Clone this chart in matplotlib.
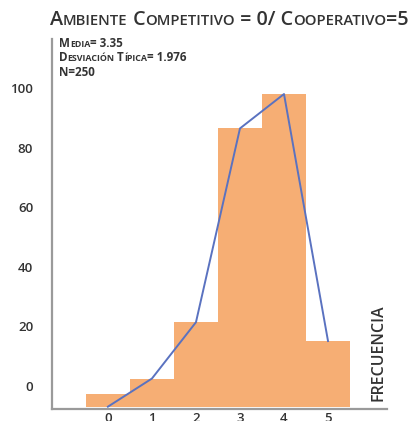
import matplotlib.pyplot as plt
from matplotlib.offsetbox import TextArea, HPacker, VPacker, AnnotationBbox

# datos
puntaje = [0, 1, 2, 3, 4, 5]
frecuencia = [4, 9, 27, 89, 100, 21]
poligono = [0, 9, 27, 89, 100, 21]
yticks = [0, 20, 40, 60, 80, 100]
titulo = "Ambiente Competitivo = 0/ Cooperativo=5"
stats = ["Media= 3.35", "Desviación Típica= 1.976", "N=250"]

FONT = "Open Sans"
GRIS = "#333333"


def small_caps(text, big, small, **kw):
    # versalitas: minusculas en mayuscula pequena
    runs = []
    for ch in text:
        low = ch.islower()
        if runs and runs[-1][1] == low:
            runs[-1][0] += ch
        else:
            runs.append([ch, low])
    areas = []
    for s, low in runs:
        props = dict(size=small if low else big, family=FONT, color=GRIS, **kw)
        areas.append(TextArea(s.upper() if low else s, textprops=props))
    return HPacker(children=areas, align="baseline", pad=0, sep=0)


fig = plt.figure(figsize=(4.16, 4.21), dpi=100)
ax = fig.add_axes([52 / 416, 12 / 421, 335 / 416, 370 / 421])

ax.bar(puntaje, frecuencia, width=1, color="#F6AE74", edgecolor="none")
ax.plot(puntaje, poligono, color="#5A72C0", lw=1.4)

ax.set_xlim(-1.27, 6.34)
ax.set_ylim(-0.74, 117.6)
ax.set_xticks(puntaje)
ax.set_xticklabels([str(p) for p in puntaje], family=FONT, fontsize=9.5,
                   color=GRIS, weight="semibold")
ax.tick_params(axis="x", length=0, pad=2)
ax.set_yticks([])
for s in ["top", "right"]:
    ax.spines[s].set_visible(False)
for s in ["left", "bottom"]:
    ax.spines[s].set_color("#9a9a9a")
    ax.spines[s].set_linewidth(1.6)

# las etiquetas del eje y no coinciden con las barras en el original
ax2 = ax.twinx()
ax2.set_ylim(-7.83, 116.6)
ax2.yaxis.tick_left()
ax2.set_yticks(yticks)
ax2.set_yticklabels([str(t) for t in yticks], family=FONT, fontsize=9.5,
                    color=GRIS, weight="semibold")
ax2.tick_params(axis="y", length=0, pad=13.5)
for s in ax2.spines.values():
    s.set_visible(False)

fig.text(378 / 416, 68 / 421, "FRECUENCIA", rotation=90, ha="center", va="center",
         family=FONT, fontsize=11.5, color=GRIS, weight="semibold")

tbox = small_caps(titulo, 14.2, 10.7, weight="semibold")
fig.add_artist(AnnotationBbox(tbox, (50, 401), xycoords="figure pixels",
                              box_alignment=(0, 0.5), frameon=False, pad=0))

sbox = VPacker(children=[small_caps(s, 8.4, 6.4, weight="bold") for s in stats],
               align="left", pad=0, sep=1)
fig.add_artist(AnnotationBbox(sbox, (59, 384), xycoords="figure pixels",
                              box_alignment=(0, 1), frameon=False, pad=0))

fig.savefig("out.png", dpi=100)
